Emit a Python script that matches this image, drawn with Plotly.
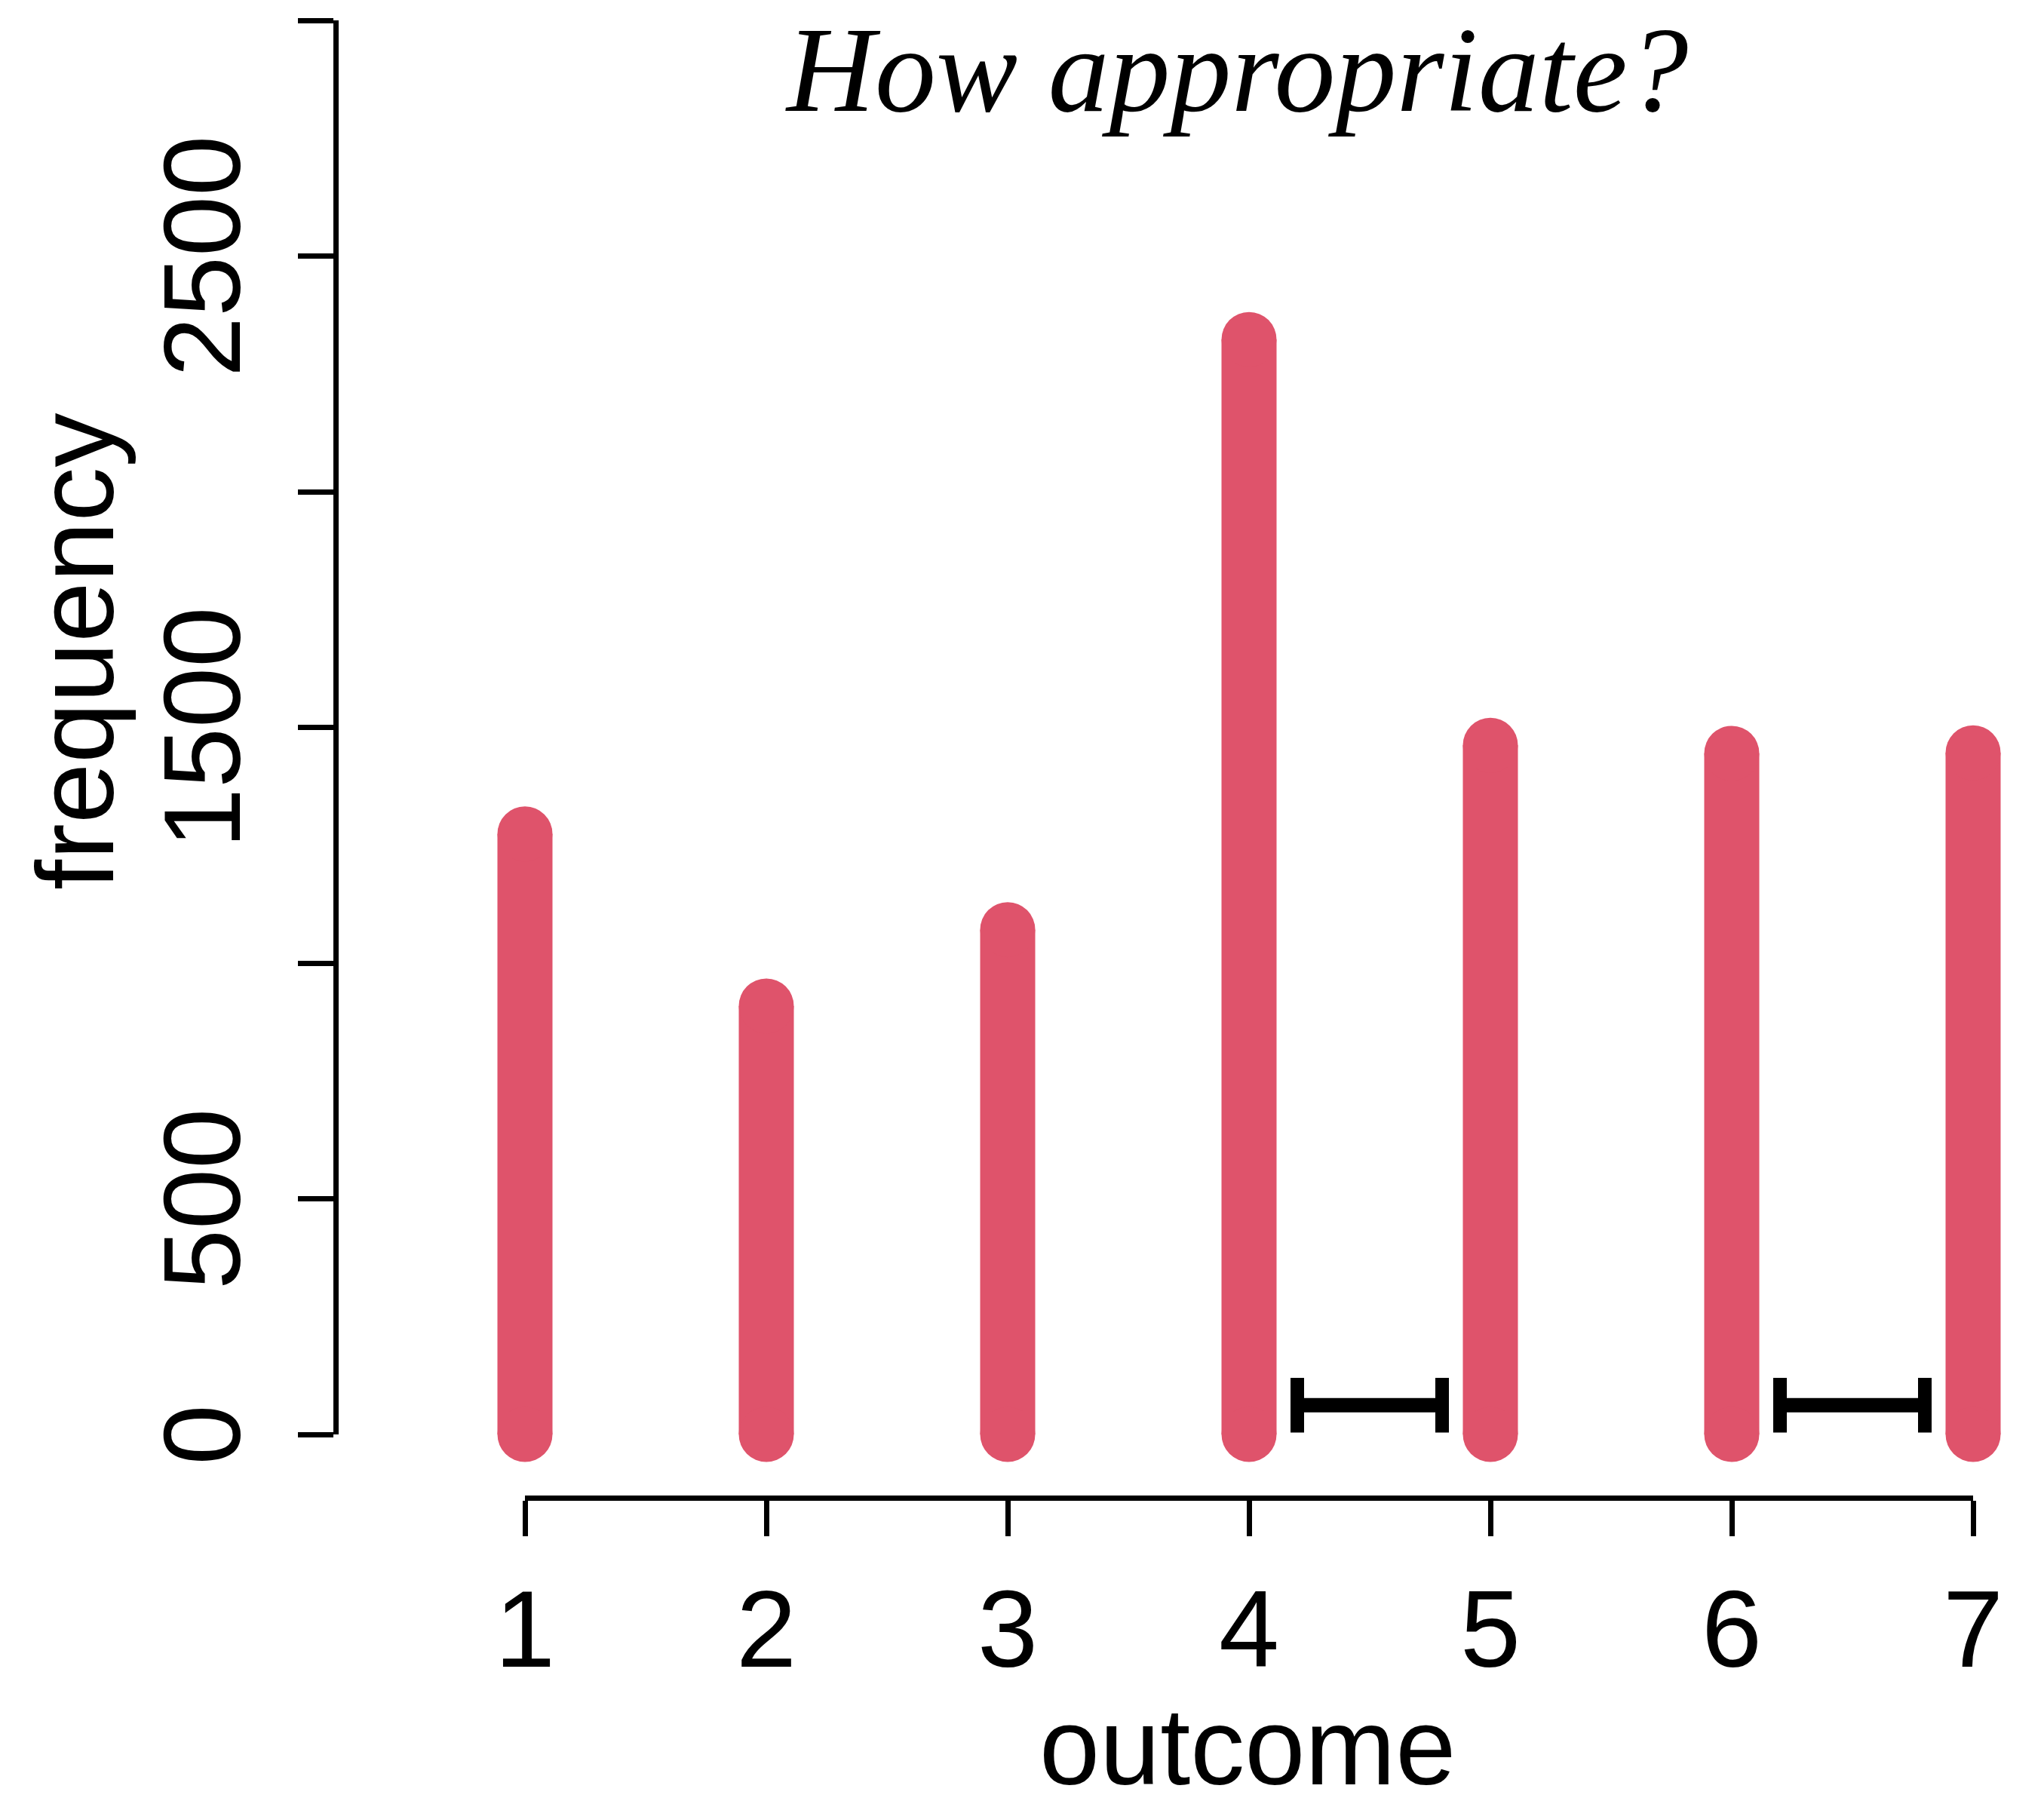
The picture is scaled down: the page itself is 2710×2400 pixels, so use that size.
import plotly.graph_objects as go

# ---- data ----
outcomes = [1, 2, 3, 4, 5, 6, 7]
frequency = [1274, 909, 1071, 2323, 1462, 1445, 1446]
y_ticks = [0, 500, 1000, 1500, 2000, 2500, 3000]
y_ticklabels = ["0", "500", "", "1500", "", "2500", ""]
x_ticklabels = ["1", "2", "3", "4", "5", "6", "7"]
interval_left = [4.2, 4.8]
interval_right = [6.2, 6.8]
interval_y = 62
cap_span = [4, 120]

W, H = 2710, 2400
BAR_COLOR = "#DF536B"
SANS = "Liberation Sans, Arial, sans-serif"
SERIF = "Liberation Serif, Times New Roman, serif"

# pixel mapping helpers (only to set axis ranges / domains)
x1_px, x_unit = 696.0, 320.0
y0_px, y_unit = 1902.0, 0.625  # px per data unit
x_range = [1 - x1_px / x_unit, 1 + (W - x1_px) / x_unit]
y_range = [-(H - y0_px) / y_unit, y0_px / y_unit]


def dx(px):
    return 1 + (px - x1_px) / x_unit


def dy(py):
    return (y0_px - py) / y_unit


fig = go.Figure()

# bars as thick lines
bx, by = [], []
for o, f in zip(outcomes, frequency):
    bx += [o, o, None]
    by += [0, f, None]
fig.add_trace(go.Scatter(x=bx, y=by, mode="lines",
                         line=dict(color=BAR_COLOR, width=73),
                         hoverinfo="skip", showlegend=False))
# rounded ends
ex, ey = [], []
for o, f in zip(outcomes, frequency):
    ex += [o, o]
    ey += [0, f]
fig.add_trace(go.Scatter(x=ex, y=ey, mode="markers",
                         marker=dict(color=BAR_COLOR, size=73, line=dict(width=0)),
                         hoverinfo="skip", showlegend=False))

# interval bars
for iv in (interval_left, interval_right):
    fig.add_trace(go.Scatter(x=iv, y=[interval_y, interval_y], mode="lines",
                             line=dict(color="black", width=19),
                             hoverinfo="skip", showlegend=False))
    for xe in iv:
        fig.add_trace(go.Scatter(x=[xe, xe], y=cap_span, mode="lines",
                                 line=dict(color="black", width=18),
                                 hoverinfo="skip", showlegend=False))

# dummy trace for display axes
fig.add_trace(go.Scatter(x=[1], y=[0], xaxis="x2", yaxis="y2", mode="markers",
                         marker=dict(opacity=0), hoverinfo="skip", showlegend=False))

fig.update_layout(
    width=W, height=H,
    margin=dict(l=0, r=0, t=0, b=0, autoexpand=False),
    paper_bgcolor="white", plot_bgcolor="rgba(0,0,0,0)",
    xaxis=dict(range=x_range, domain=[0, 1], visible=False, fixedrange=True),
    yaxis=dict(range=y_range, domain=[0, 1], visible=False, fixedrange=True),
    xaxis2=dict(domain=[x1_px / W, (x1_px + 6 * x_unit) / W], range=[1, 7],
                anchor="free", position=1 - 1986 / H, automargin=False,
                showline=True, linecolor="black", linewidth=7,
                ticks="outside", ticklen=47, tickwidth=7, tickcolor="black",
                tickvals=outcomes, ticktext=x_ticklabels,
                tickfont=dict(family=SANS, size=144, color="black"),
                showgrid=False, zeroline=False),
    yaxis2=dict(domain=[1 - y0_px / H, 1 - (y0_px - 3000 * y_unit) / H], range=[0, 3000],
                anchor="free", position=444.6 / W, automargin=False,
                showline=True, linecolor="black", linewidth=7,
                ticks="outside", ticklen=47, tickwidth=7, tickcolor="black",
                tickvals=y_ticks, ticktext=y_ticklabels, tickangle=-90,
                ticklabelstandoff=19, ticklabelshift=22,
                tickfont=dict(family=SANS, size=144, color="black"),
                showgrid=False, zeroline=False),
    annotations=[
        dict(text="<i>How appropriate?</i>", xref="x", yref="y",
             x=dx(1640), y=dy(1), xanchor="center", yanchor="top",
             showarrow=False, font=dict(family=SERIF, size=162, color="black")),
        dict(text="outcome", xref="x", yref="y",
             x=dx(1654), y=dy(2399), xanchor="center", yanchor="bottom",
             showarrow=False, font=dict(family=SANS, size=144, color="black")),
        dict(text="frequency", xref="x", yref="y",
             x=dx(100), y=dy(864), xanchor="center", yanchor="middle",
             textangle=-90, showarrow=False,
             font=dict(family=SANS, size=144, color="black")),
    ],
)

fig.write_html("out.html")
